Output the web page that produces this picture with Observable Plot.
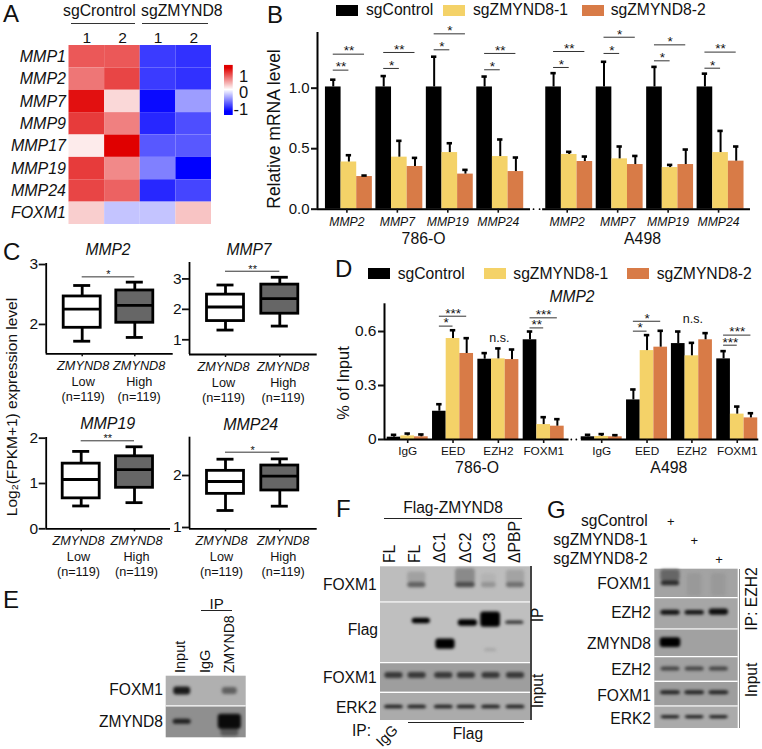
<!DOCTYPE html>
<html><head><meta charset="utf-8">
<script src="https://cdn.jsdelivr.net/npm/d3@7"></script>
<script src="https://cdn.jsdelivr.net/npm/@observablehq/plot@0.6"></script>
<style>
html,body{margin:0;padding:0;background:#fff}
#page{position:relative;width:762px;height:749px;overflow:hidden;font-family:"Liberation Sans",Arial,sans-serif;color:#111}
#page svg{position:absolute;left:0;top:0}
.t{position:absolute;white-space:nowrap;line-height:1;transform-origin:0 0}
.l{position:absolute}
</style></head><body><div id="page"></div>
<script>
// ---------- A: heatmap values
const heatGenes = ["MMP1","MMP2","MMP7","MMP9","MMP17","MMP19","MMP24","FOXM1"];
const heatSamples = ["c1","c2","z1","z2"];
const heatC1 = [0.85,0.70,1.22,1.00,0.10,1.00,0.95,0.25];
const heatC2 = [0.85,0.95,0.20,0.65,1.30,0.60,0.80,-0.30];
const heatZ1 = [-1.00,-1.00,-1.25,-1.10,-0.85,-0.65,-1.10,-0.30];
const heatZ2 = [-1.05,-1.05,-0.50,-0.90,-0.85,-1.30,-0.95,0.30];
// ---------- B: relative mRNA
const bSeries = ["sgControl","sgZMYND8-1","sgZMYND8-2"];
const bLabels = ["MMP2","MMP7","MMP19","MMP24","MMP2","MMP7","MMP19","MMP24"];
const bControl = [1.01,1.01,1.01,1.01,1.01,1.01,1.01,1.01];
const bControlErr = [1.07,1.10,1.26,1.096,1.124,1.218,1.176,1.12];
const bG1 = [0.39,0.43,0.468,0.435,0.452,0.416,0.344,0.468];
const bG1Err = [0.446,0.565,0.545,0.576,0.474,0.518,0.366,0.647];
const bG2 = [0.27,0.353,0.29,0.311,0.394,0.369,0.369,0.397];
const bG2Err = [0.278,0.424,0.325,0.427,0.435,0.44,0.493,0.518];
const bLow = [1.149,1.163,1.317,1.152,1.171,1.287,1.226,1.165];
const bLowStars = ["**","*","*","*","*","*","*","*"];
const bHigh = [1.281,1.295,1.449,1.287,1.303,1.421,1.358,1.298];
const bHighStars = ["**","**","*","**","**","*","*","**"];
// ---------- C: box statistics [low whisker, q1, median, q3, high whisker]
const boxMMP2 = [[1.72,1.944,2.256,2.467,2.65],[1.783,2.028,2.317,2.567,2.706]];
const boxMMP7 = [[1.319,1.615,2.077,2.484,2.80],[1.45,1.857,2.352,2.813,3.055]];
const boxMMP19 = [[0.504,0.672,1.088,1.438,1.708],[0.577,0.905,1.307,1.60,1.81]];
const boxMMP24 = [[1.327,1.647,1.885,2.09,2.314],[1.41,1.712,1.987,2.192,2.32]];
const boxGroups = ["Low","High"];
// ---------- D: ChIP % of input
const dLabels = ["IgG","EED","EZH2","FOXM1","IgG","EED","EZH2","FOXM1"];
const dControl = [0.013,0.157,0.446,0.554,0.015,0.22,0.533,0.448];
const dControlErr = [0.026,0.196,0.48,0.60,0.026,0.278,0.60,0.491];
const dG1 = [0.02,0.561,0.448,0.083,0.017,0.494,0.465,0.141];
const dG1Err = [0.033,0.607,0.506,0.124,0.03,0.58,0.537,0.183];
const dG2 = [0.015,0.478,0.444,0.074,0.015,0.513,0.554,0.12];
const dG2Err = [0.028,0.563,0.50,0.113,0.024,0.604,0.591,0.146];
const dBrackets = [[1,0.63,"*",0.685,"***"],[3,0.62,"**",0.676,"***"],[5,0.602,"*",0.657,"*"],[7,0.524,"***",0.58,"***"]];
const dNs = [[2,0.565],[6,0.67]];
// ---------- blots: [lane, row, position in row, lane width, row height, density]
const gelEBands = [[1,0,.5,.71,.27,.9],[3,0,.5,.63,.24,.62],[1,1,.5,.76,.16,.88],[3,1,.8,.75,.3,.65],[3,1,.5,.97,.47,.96]];
const gelFBands = [
 [2,0,.3,.74,.3,.37],[3.97,0,.27,.8,.45,.46],[4.92,0,.35,.6,.3,.3],[6,0,.3,.74,.4,.36],
 [2,0,.52,.74,.15,.62],[3.97,0,.52,.8,.15,.7],[4.92,0,.52,.6,.15,.42],[6,0,.52,.74,.15,.56],
 [2.18,1,.313,.74,.09,1],[3.16,1,.693,.78,.168,1],[4.07,1,.346,.78,.11,1],[4.99,1,.29,.8,.25,1],[5.97,1,.34,.74,.056,.82],[4.99,1,.793,.5,.056,.34],
 [1.07,2,.43,.74,.2,.78],[2.01,2,.43,.74,.2,.78],[3.09,2,.43,.74,.2,.78],[4.01,2,.43,.74,.2,.78],[5.01,2,.43,.74,.2,.78],[6,2,.43,.74,.2,.78],
 [1.07,3,.52,.76,.13,.88],[2.01,3,.52,.76,.13,.88],[3.09,3,.52,.76,.13,.88],[4.01,3,.52,.76,.13,.88],[5.01,3,.52,.76,.13,.88],[6,3,.52,.76,.13,.88]];
const gelGBands = [
 [1,0,.22,.8,.4,.6],[2,0,.55,.6,.8,.4],[3,0,.55,.6,.8,.4],[1,0,.5,.76,.17,.84],
 [1,1,.48,.8,.16,.93],[2,1,.48,.8,.15,.93],[3,1,.46,.8,.2,.95],
 [1,2,.49,.85,.35,1],
 [1,3,.5,.78,.17,.74],[2,3,.5,.78,.17,.74],[3,3,.5,.78,.17,.74],
 [1,4,.46,.82,.16,.87],[2,4,.46,.82,.16,.87],[3,4,.46,.82,.16,.87],
 [1,5,.5,.78,.13,.93],[2,5,.5,.78,.13,.93],[3,5,.5,.78,.13,.93]];
const gelERows = [.31,.44];
const gelFRows = [.26,.25,.38,.33];
const gelGRows = [.36,.35,.37,.37,.38,.33];

const page = document.getElementById("page");
const serif = "'Liberation Sans',Arial,sans-serif";
const colors = ["#000000","#f4d268","#d87b47"];
const W = 762, H = 749;
const base = f => ({width:W,height:H,marginLeft:f.l,marginRight:W-f.r,marginTop:f.t,marginBottom:H-f.b,
  style:{background:"transparent",fontFamily:serif,color:"#111",overflow:"visible"}});
function add(p){page.appendChild(p);}
function T(s,x,y,o={}){
  const e=document.createElement("div");e.className="t";e.textContent=s;
  const a={start:0,middle:-50,end:-100}[o.anchor||"start"];
  e.style.cssText=`left:${x}px;top:${y}px;font-size:${o.size||15.6}px;font-style:${o.italic?"italic":"normal"};transform:rotate(${o.rot||0}deg) translate(${a}%,-50%)`;
  page.appendChild(e);
}
function line(x1,y1,x2,y2,c="#222",w=1){
  const e=document.createElement("div");e.className="l";
  e.style.cssText=x1===x2?`left:${x1-w/2}px;top:${y1}px;width:${w}px;height:${y2-y1}px;background:${c}`
    :`left:${x1}px;top:${y1-w/2}px;width:${x2-x1}px;height:${w}px;background:${c}`;
  page.appendChild(e);
}

// ---------- Panel A
const heatRows = heatGenes.flatMap((g,i)=>[heatC1[i],heatC2[i],heatZ1[i],heatZ2[i]].map((v,j)=>({g,s:heatSamples[j],v})));
const heatColor = {type:"linear",domain:[-1.3,0,1.3],range:["#0000ff","#ffffff","#e00000"],clamp:true};
add(Plot.plot({...base({l:68.5,r:211,t:45,b:224}),
  x:{domain:heatSamples,padding:0,round:false,axis:null},y:{domain:heatGenes,padding:0,round:false,axis:null},color:heatColor,
  marks:[Plot.cell(heatRows,{x:"s",y:"g",fill:"v"}),
    Plot.axisX({anchor:"top",tickSize:0,tickPadding:3,fontSize:15.5,tickFormat:d=>d[1],label:null}),
    Plot.axisY({tickSize:0,tickPadding:3,fontSize:16,fontStyle:"italic",label:null})]}));
add(Plot.plot({...base({l:224,r:232.7,t:65,b:115}),
  x:{axis:null,domain:[0,1]},y:{domain:[-1.5,1.5],axis:null},color:heatColor,
  marks:[Plot.rect(d3.range(-1.5,1.5,.06),{x1:0,x2:1,y1:d=>d,y2:d=>d+.065,fill:d=>d}),
    Plot.axisY({anchor:"right",ticks:[-1,0,1],tickSize:0,tickPadding:15,textAnchor:"end",fontSize:16.5,dy:2.5,label:null,tickFormat:d=>String(d)})]}));
T("A",3,13.5,{size:24});
T("sgCrontrol",63,11,{size:15.8});T("sgZMYND8",141,11,{size:15.8});
line(71,23,135,23,"#333",1);line(142,23,208,23,"#333",1);

// ---------- Grouped bars
function grouped(cfg){
  const {frame:f,unit,c0,pos,labels,barW,vals,errs,yTop,ticks,tickFmt,fs,segs,dots,brackets,notes,italic,cells,dxTick}=cfg;
  const bars=[];
  vals.forEach((arr,k)=>arr.forEach((v,i)=>bars.push({x:pos[i]+(k-1)*barW,v,e:errs[k][i],s:bSeries[k]})));
  const xd=[(f.l-c0)/unit,(f.r-c0)/unit];
  add(Plot.plot({...base(f),x:{domain:xd,axis:null},y:{domain:[0,yTop],axis:null},
    color:{domain:bSeries,range:colors},
    marks:[
      Plot.rect(bars,{x1:d=>d.x-barW/2,x2:d=>d.x+barW/2,y1:0,y2:"v",fill:"s"}),
      Plot.ruleX(bars,{x:"x",y1:"v",y2:"e",stroke:"#000",strokeWidth:2}),
      Plot.ruleY(bars,{y:"e",x1:d=>d.x-cfg.cap,x2:d=>d.x+cfg.cap,stroke:"#000",strokeWidth:2.6}),
      Plot.ruleX([xd[0]],{stroke:"#000",strokeWidth:2}),
      Plot.ruleY(segs,{y:0,x1:d=>d[0],x2:d=>d[1],stroke:"#000",strokeWidth:2}),
      Plot.dot(dots,{x:d=>d,y:0,r:.9,fill:"#000"}),
      Plot.axisY({ticks,tickFormat:tickFmt,tickSize:6,tickPadding:2,fontSize:fs,strokeWidth:2,label:null}),
      Plot.axisX({ticks:pos,tickFormat:(d,i)=>labels[i],tickSize:4,tickPadding:cfg.tickPad,fontSize:cfg.xfs,fontStyle:italic?"italic":"normal",strokeWidth:1.6,label:null,dx:dxTick}),
      Plot.axisX({ticks:cfg.cellPos,tickFormat:(d,i)=>cells[i],tickSize:0,tickPadding:cfg.cellPad,fontSize:15.8,label:null}),
      Plot.ruleY(brackets,{y:"y",x1:d=>d.x-barW,x2:d=>d.x+d.k*barW,stroke:"#333",strokeWidth:1}),
      Plot.text(brackets,{x:d=>d.x+(d.k-1)*barW/2,y:"y",text:"t",fontSize:13.5,dy:cfg.starDy,fill:"#111"}),
      Plot.text(notes,{x:d=>d[0],y:d=>d[1],text:()=>"n.s.",fontSize:12.5,dx:1})
    ]}));
}
const bPos=[0,1,2,3,4.367,5.367,6.367,7.367];
const bBr=bPos.flatMap((x,i)=>[{x,k:0,y:bLow[i],t:bLowStars[i]},{x,k:1,y:bHigh[i],t:bHighStars[i]}]);
grouped({frame:{l:317,r:750,t:32,b:208.7},unit:50.45,c0:348.4,pos:bPos,labels:bLabels,barW:.31,cap:.053,
  vals:[bControl,bG1,bG2],errs:[bControlErr,bG1Err,bG2Err],yTop:1.46,ticks:[0,.5,1],tickFmt:d3.format(".1f"),fs:15,
  segs:[[-.622,3.6],[3.84,7.96]],dots:[3.66,3.78],brackets:bBr,notes:[],italic:true,cells:["786-O","A498"],cellPos:[1.48,5.82],
  tickPad:4,xfs:12.2,cellPad:24,starDy:-3,dxTick:-2});
T("B",267,14.5,{size:24});
T("Relative mRNA level",275,128.5,{size:17.5,rot:-90,anchor:"middle"});

const dPos=[0,1,2,3,4.28,5.28,6.27,7.27];
const dBr=dBrackets.flatMap(([i,a,sa,b,sb])=>[{x:dPos[i],k:0,y:a,t:sa},{x:dPos[i],k:1,y:b,t:sb}]);
grouped({frame:{l:384,r:758.3,t:303.3,b:439},unit:45.33,c0:407.2,pos:dPos,labels:dLabels,barW:.3015,cap:.06,
  vals:[dControl,dG1,dG2],errs:[dControlErr,dG1Err,dG2Err],yTop:.754,ticks:[0,.3,.6],tickFmt:d=>d===0?"0":d.toFixed(1),fs:15.5,
  segs:[[-.512,3.56],[3.83,7.745]],dots:[3.61,3.72],brackets:dBr,notes:dNs.map(([i,y])=>[dPos[i],y]),italic:false,cells:["786-O","A498"],cellPos:[1.53,5.76],
  tickPad:3,xfs:11.8,cellPad:22,starDy:-3,dxTick:0});
T("D",335,268.5,{size:24});
T("MMP2",572,297,{size:15.6,italic:true,anchor:"middle"});
T("% of Input",342.7,383,{size:16.3,rot:-90,anchor:"middle"});

function legend(items,y){items.forEach(([sx,tx],i)=>{
  line(sx,y,sx+22,y,colors[i],11.2);T(bSeries[i],tx,y,{size:15.7});});}
legend([[336,366],[443.3,473],[581.7,610.7]],10.3);
legend([[368.3,397.7],[484,513.3],[626.7,656.7]],273.5);

// ---------- Panel C
function boxPanel(cfg){
  const f=cfg.frame,span=cfg.c1-cfg.c0,xd=[(f.l-cfg.c0)/span,(f.r-cfg.c0)/span];
  const hw=18.5/span,cw=8.5/span;
  const rows=cfg.box.map((b,i)=>({x:i,lo:b[0],q1:b[1],m:b[2],q3:b[3],hi:b[4],fill:i?"#666666":"#ffffff"}));
  const lab=(tx,dy,italic)=>Plot.text(rows,{x:d=>d.x+cfg.off[d.x]/span,frameAnchor:"bottom",lineAnchor:"top",dy,text:tx,fontSize:12.7,fontStyle:italic?"italic":"normal"});
  add(Plot.plot({...base(f),x:{domain:xd,axis:null},y:{domain:cfg.yd,axis:null},
    marks:[
      Plot.ruleX(rows,{x:"x",y1:"lo",y2:"hi",stroke:"#000",strokeWidth:2.8}),
      Plot.ruleY(rows,{y:"lo",x1:d=>d.x-cw,x2:d=>d.x+cw,stroke:"#000",strokeWidth:2.8}),
      Plot.ruleY(rows,{y:"hi",x1:d=>d.x-cw,x2:d=>d.x+cw,stroke:"#000",strokeWidth:2.8}),
      Plot.rect(rows,{x1:d=>d.x-hw,x2:d=>d.x+hw,y1:"q1",y2:"q3",fill:"fill",stroke:"#000",strokeWidth:2.8}),
      Plot.ruleY(rows,{y:"m",x1:d=>d.x-hw,x2:d=>d.x+hw,stroke:"#000",strokeWidth:2.8}),
      Plot.ruleX([xd[0]],{stroke:"#000",strokeWidth:1.8}),
      Plot.ruleY([cfg.yd[0]],{stroke:"#000",strokeWidth:1.8}),
      Plot.axisY({ticks:cfg.ticks,tickFormat:d=>String(d),tickSize:7,tickPadding:1,fontSize:15.5,strokeWidth:1.8,label:null}),
      Plot.axisX({ticks:[0,1],tickSize:3,tickFormat:()=>"",strokeWidth:1.5,label:null}),
      lab(()=>"ZMYND8",7,true),
      lab(d=>boxGroups[d.x],23,false),
      lab(()=>"(n=119)",38.5,false),
      Plot.ruleY([cfg.br],{x1:0,x2:1,stroke:"#333",strokeWidth:1}),
      Plot.text([cfg.br],{x:.5,y:d=>d,text:()=>cfg.stars,fontSize:11,dy:-2})
    ]}));
  T(cfg.title,cfg.tx,cfg.ty,{size:cfg.title.length>4?16:15.6,italic:true,anchor:"middle"});
}
boxPanel({title:"MMP2",tx:108,ty:250,frame:{l:45.7,r:172.7,t:263,b:353.3},c0:81.7,c1:134.3,yd:[1.51,3.017],ticks:[2,3],box:boxMMP2,br:2.794,stars:"*",off:[1,4.4]});
boxPanel({title:"MMP7",tx:249,ty:250,frame:{l:189,r:316.7,t:262,b:354},c0:225,c1:279.3,yd:[.516,3.54],ticks:[1,2,3],box:boxMMP7,br:3.253,stars:"**",off:[-2,3.4]});
boxPanel({title:"MMP19",tx:107.7,ty:424,frame:{l:45.7,r:170,t:437,b:528.3},c0:80.7,c1:134,yd:[0,2.015],ticks:[0,1,2],box:boxMMP19,br:1.942,stars:"**",off:[-2.7,2]});
boxPanel({title:"MMP24",tx:250.7,ty:425,frame:{l:189,r:316.7,t:436.7,b:528.3},c0:225,c1:279.3,yd:[.975,2.737],ticks:[1,2],box:boxMMP24,br:2.449,stars:"*",off:[-4,3.4]});
T("C",3,251.5,{size:24});
T("Log₂(FPKM+1) expression level",12,407,{size:15.5,rot:-90,anchor:"middle"});

// ---------- Blots
function gel(f,xd,edges,rowDensity,tuples){
  const n=edges.length-1,idx=d3.range(n+1);
  const bands=tuples.map(([lane,row,pos,w,h,d])=>({lane,y:row+pos,w,h,d}));
  const rows=rowDensity.map((d,i)=>({i,d}));
  add(Plot.plot({...base(f),x:{domain:xd,axis:null},y:{type:"linear",domain:idx,range:edges,axis:null},
    color:{type:"linear",domain:[0,1],range:["#ffffff","#000000"]},
    marks:[
      Plot.rect(rows,{x1:xd[0],x2:xd[1],y1:"i",y2:d=>d.i+1,fill:"d"}),
      Plot.rect(bands,{x1:d=>d.lane-d.w/2,x2:d=>d.lane+d.w/2,y1:d=>d.y-d.h/2,y2:d=>d.y+d.h/2,fill:"d",rx:3,imageFilter:"blur(1.6px)"}),
      Plot.ruleY(idx.slice(1,n),{x1:xd[0],x2:xd[1],y:d=>d,stroke:"#fff",strokeWidth:1.2})
    ]}));
}
// E
gel({l:165.7,r:245.7,t:675.7,b:737.3},[.328,3.689],[675.7,705.3,737.3],gelERows,gelEBands);
T("E",3,599.5,{size:24});
T("FOXM1",163,690,{anchor:"end"});T("ZMYND8",163,722,{anchor:"end"});
T("Input",180,673,{rot:-90,size:14.5});T("IgG",204.7,673,{rot:-90,size:14.5});T("ZMYND8",229,673,{rot:-90,size:14});
T("IP",216.7,603,{anchor:"middle",size:15});line(200.7,610.7,232.3,610.7,"#222",1);
// F
gel({l:380,r:530,t:566.3,b:720},[.526,6.608],[566.3,601.5,662.2,691.8,720],gelFRows,gelFBands);
T("F",336,508.5,{size:24});
T("Flag-ZMYND8",453,508,{anchor:"middle",size:15.6});line(384.3,518.7,522.3,518.7,"#222",1);
[["FL",390],["FL",415],["ΔC1",440],["ΔC2",465.7],["ΔC3",490],["ΔPBP",515]].forEach(([s,x])=>T(s,x,562.7,{rot:-90,size:15.7}));
T("FOXM1",376.7,584.7,{anchor:"end"});T("Flag",378,630,{anchor:"end"});T("FOXM1",376.7,677.7,{anchor:"end"});T("ERK2",376.7,708,{anchor:"end"});
line(530.9,566.3,530.9,720,"#444",1.4);
T("IP",538,615,{rot:-90,anchor:"middle"});T("Input",538,690.7,{rot:-90,anchor:"middle"});
T("IP:",352,730.7);T("IgG",386.5,735.5,{rot:-45,anchor:"middle",size:14.5});T("Flag",468,734,{anchor:"middle"});
line(408,722.3,524.3,722.3,"#222",1);
// G
gel({l:654.3,r:737.7,t:568.7,b:728},[.351,3.8],[568.7,597.2,628.5,656.2,680.8,705.5,728],gelGRows,gelGBands);
T("G",547,509.5,{size:24});
T("sgControl",647.7,520.7,{anchor:"end"});T("sgZMYND8-1",647.7,540,{anchor:"end"});T("sgZMYND8-2",647.7,559.3,{anchor:"end"});
T("+",670.7,520.7,{anchor:"middle",size:13});T("+",694.3,540,{anchor:"middle",size:13});T("+",719,559.3,{anchor:"middle",size:13});
[["FOXM1",584],["EZH2",613],["ZMYND8",644],["EZH2",670],["FOXM1",695.7],["ERK2",719]].forEach(([s,y])=>T(s,651,y,{anchor:"end"}));
line(739.3,568.7,739.3,728,"#888",1.2);
T("IP: EZH2",751.7,599.3,{rot:-90,anchor:"middle"});T("Input",751.7,680,{rot:-90,anchor:"middle"});
</script></body></html>
